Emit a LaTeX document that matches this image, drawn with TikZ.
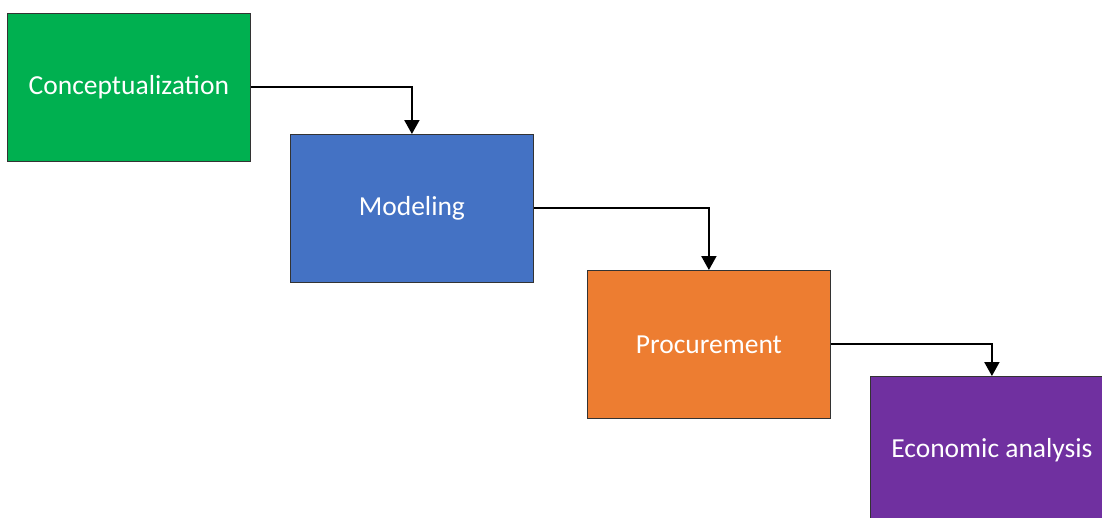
\documentclass[tikz,border=0pt]{standalone}
\usepackage{fontspec}
\setmainfont{Carlito}
\usetikzlibrary{arrows.meta}
\definecolor{cgreen}{HTML}{00B050}
\definecolor{cblue}{HTML}{4472C4}
\definecolor{corange}{HTML}{ED7D31}
\definecolor{cpurple}{HTML}{7030A0}
\tikzset{
  stage/.style={draw=black!80, line width=0.8pt, minimum width=243pt, minimum height=148pt,
    inner sep=0pt, text=white, font=\fontsize{27.5}{33}\selectfont, anchor=north west},
  flow/.style={line width=2pt, -{Triangle[width=15pt,length=14pt]}}
}
\begin{document}
\begin{tikzpicture}[x=1pt,y=-1pt]
  \useasboundingbox (0,0) rectangle (1102,517);
  \clip (0,0) rectangle (1102,517);
  \node[stage, fill=cgreen]  (concept) at (7,13)   {Conceptualization};
  \node[stage, fill=cblue]   (model)   at (290,134) {Modeling};
  \node[stage, fill=corange] (procure) at (587,270) {Procurement};
  \node[stage, fill=cpurple] (econ)    at (870,376) {Economic analysis};
  \draw[flow] (concept.east) -| (model.north);
  \draw[flow] (model.east) -| (procure.north);
  \draw[flow] (procure.east) -| (econ.north);
\end{tikzpicture}
\end{document}
